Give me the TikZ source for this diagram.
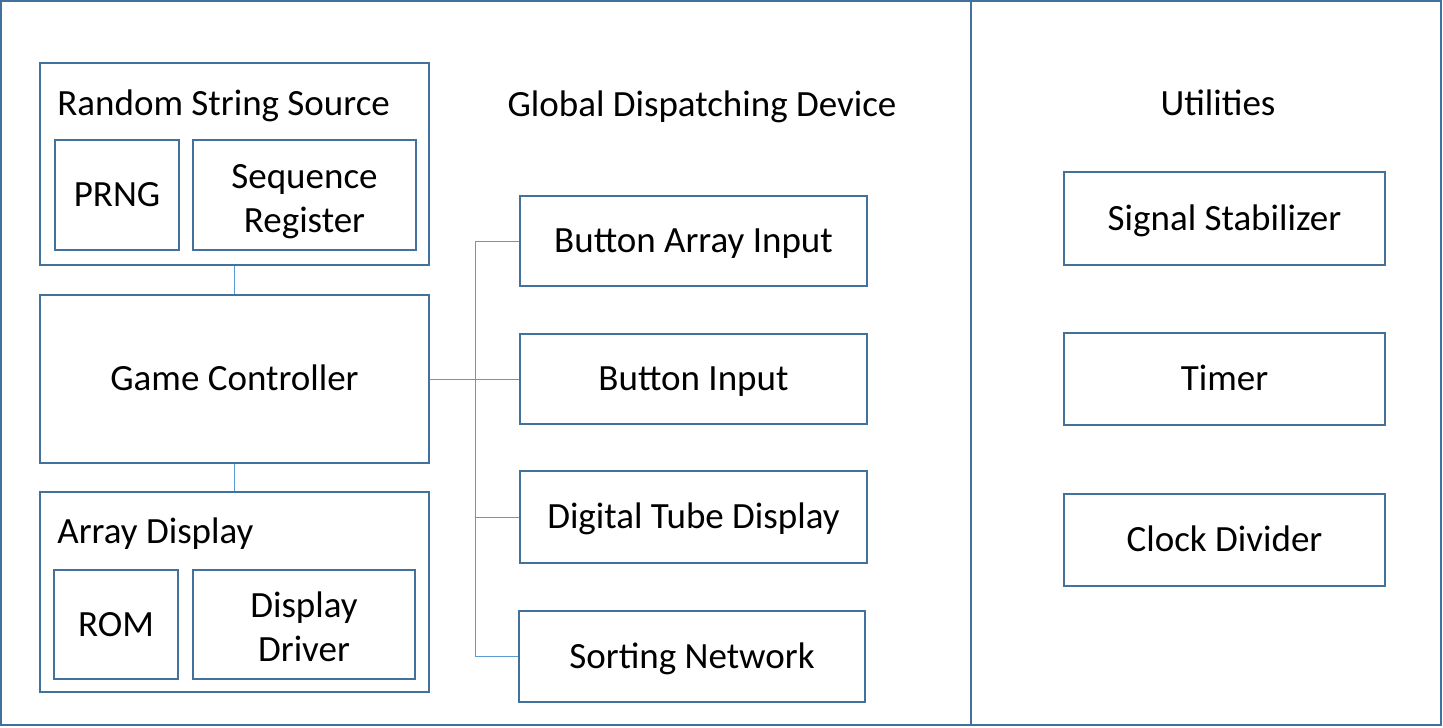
\documentclass[tikz,border=0pt]{standalone}
\usepackage{fontspec}
\setmainfont{Carlito}
\usepackage{tikz}
\usetikzlibrary{calc,positioning}
\definecolor{boxline}{HTML}{41719C}
\definecolor{wireline}{HTML}{5B9BD5}
\tikzset{
  blk/.style={draw=boxline, line width=1pt, inner sep=0pt, align=center},
  blkone/.style={blk, text height=15.5pt, text depth=3.7pt},
  ttl/.style={inner sep=0pt},
  wire/.style={draw=wireline, line width=0.5pt},
}
\newcommand{\twolift}{\rule{0pt}{19pt}}
\newcommand{\twodrop}{\rule[-3.7pt]{0pt}{3.7pt}}
\begin{document}
\begin{tikzpicture}[x=0.5pt, y=-0.5pt, font=\fontsize{18.5}{22}\selectfont]
            \useasboundingbox (0,0) rectangle (1443,727);
            % frame and divider
            \draw[boxline, line width=1pt] (1,1) rectangle (1441,725);
            \draw[boxline, line width=1pt] (971,1) -- (971,725);
            % left column
            \node[blk, minimum width=194.5pt, minimum height=101pt] (rss) at (234.5,164) {};
            \node[ttl, anchor=base west] (rsstitle) at (57,116) {Random String Source};
            \node[blkone, minimum width=62pt, minimum height=55pt] (prng) at (117,195) {PRNG};
            \node[blk, minimum width=111.5pt, minimum height=55pt] (seqreg) at (304.5,195) {\twolift Sequence\\Register\twodrop};
            \node[blkone, minimum width=194.5pt, minimum height=84pt] (gc) at (234.5,379) {Game Controller};
            \node[blk, minimum width=194.5pt, minimum height=100pt] (ad) at (234.5,592) {};
            \node[ttl, anchor=base west] (adtitle) at (57,543) {Array Display};
            \node[blkone, minimum width=62pt, minimum height=54.5pt] (rom) at (116,624.5) {ROM};
            \node[blk, minimum width=111pt, minimum height=54.5pt] (dd) at (304,624.5) {\twolift Display\\Driver\twodrop};
            % middle column
            \node[ttl, anchor=base] (gddtitle) at (702,117) {Global Dispatching Device};
            \node[blkone, minimum width=173.5pt, minimum height=45pt] (bai) at (693.5,241) {Button Array Input};
            \node[blkone, minimum width=173.5pt, minimum height=45pt] (bi) at (693.5,379) {Button Input};
            \node[blkone, minimum width=173.5pt, minimum height=46pt] (dtd) at (693.5,517) {Digital Tube Display};
            \node[blkone, minimum width=173pt, minimum height=45.5pt] (sn) at (692,656.5) {Sorting Network};
            % right column
            \node[ttl, anchor=base] (utiltitle) at (1218,116) {Utilities};
            \node[blkone, minimum width=160.5pt, minimum height=46.5pt] (ss) at (1224.5,218.5) {Signal Stabilizer};
            \node[blkone, minimum width=160.5pt, minimum height=46pt] (timer) at (1224.5,379) {Timer};
            \node[blkone, minimum width=160.5pt, minimum height=46pt] (cd) at (1224.5,540) {Clock Divider};
            % connectors
            \coordinate (bus) at (475,379);
            \draw[wire] (rss.south) -- (gc.north);
            \draw[wire] (gc.south) -- (ad.north);
            \draw[wire] (gc.east) -- (bi.west);
            \draw[wire] (bai.west) -| (bus |- sn.west) -- (sn.west);
            \draw[wire] (dtd.west) -- (bus |- dtd.west);
        \end{tikzpicture}
\end{document}
